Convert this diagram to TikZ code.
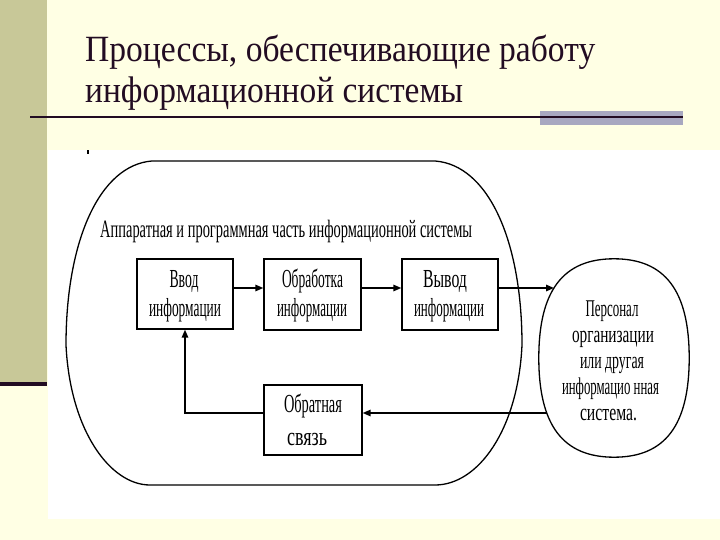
\documentclass[tikz,border=0pt]{standalone}
\usepackage{fontspec}
\setmainfont{Liberation Serif}
\usepackage{graphicx}
\usetikzlibrary{arrows.meta}
\definecolor{bg}{HTML}{FFFFE4}
\definecolor{olivebar}{HTML}{C8C898}
\definecolor{darkp}{HTML}{220C22}
\definecolor{graybar}{HTML}{A8A8C0}
\newcommand\fitw[2]{\resizebox{#1pt}{\height}{#2}}
\begin{document}
\begin{tikzpicture}[x=1pt,y=-1pt,
  box/.style={draw, line width=1.4pt, inner sep=0pt},
  txt/.style={inner sep=0pt, anchor=base, font=\fontsize{26}{30}\selectfont},
  etxt/.style={inner sep=0pt, anchor=base, font=\fontsize{24}{28}\selectfont},
  ttl/.style={inner sep=0pt, anchor=base west, text=darkp, font=\fontsize{37}{42}\selectfont},
  conn/.style={line width=1.5pt, -{Triangle[length=8pt,width=6.5pt]}},
  outl/.style={line width=1.3pt}]
\useasboundingbox (0,0) rectangle (720,540);
% background
\fill[bg] (0,0) rectangle (720,540);
\fill[olivebar] (0,0) rectangle (47,382);
\fill[darkp] (0,382) rectangle (47,386);
\fill[white] (48,150) rectangle (720,519);
% title
\node[ttl] (t1) at (85,62) {\fitw{510}{Процессы, обеспечивающие работу}};
\node[ttl] (t2) at (85,103) {\fitw{378}{информационной системы}};
\fill[graybar] (540,111) rectangle (683,125);
\draw[darkp, line width=2pt] (30,117) -- (683,117);
\fill (87,150) rectangle (89,154);
% big container
\draw[outl] (152,161) -- (435,161)
  .. controls (488,165) and (522,240) .. (522,345)
  .. controls (518,430) and (478,485) .. (435,485)
  -- (150,485)
  .. controls (110,485) and (70,430) .. (66,345)
  .. controls (66,240) and (100,165) .. (152,161) -- cycle;
\node[txt, anchor=base west, font=\fontsize{25}{29}\selectfont] (lab) at (100,238) {\fitw{372}{Аппаратная и программная часть информационной системы}};
% boxes
\node[box, minimum width=96pt, minimum height=70pt] (b1) at (185,294) {};
\node[box, minimum width=97pt, minimum height=71pt] (b2) at (312.5,294.5) {};
\node[box, minimum width=96pt, minimum height=71pt] (b3) at (450,294.5) {};
\node[box, minimum width=98pt, minimum height=70pt] (b4) at (313,420) {};
\node[txt] (b1a) at (184,287) {\fitw{29}{Ввод}};
\node[txt] (b1b) at (185,316) {\fitw{72}{информации}};
\node[txt] (b2a) at (312.5,287) {\fitw{61}{Обработка}};
\node[txt] (b2b) at (312,316) {\fitw{70}{информации}};
\node[txt] (b3a) at (445,287) {\fitw{44}{Вывод}};
\node[txt] (b3b) at (449,316) {\fitw{70}{информации}};
\node[txt] (b4a) at (313,412) {\fitw{58}{Обратная}};
\node[txt] (b4b) at (307,445) {\fitw{40}{связь}};
% person / other system
\node[inner sep=0pt, minimum width=150pt, minimum height=198pt] (pers) at (614,358) {};
\draw[outl] (pers.north)
  .. controls ++(51,0) and ++(0,-67.3) .. (pers.east)
  .. controls ++(0,67.3) and ++(51,0) .. (pers.south)
  .. controls ++(-51,0) and ++(0,67.3) .. (pers.west)
  .. controls ++(0,-67.3) and ++(-51,0) .. (pers.north) -- cycle;
\coordinate (pin) at (554,288);
\coordinate (pout) at (547,413);
\node[etxt] (p1) at (612,316) {\fitw{53}{Персонал}};
\node[etxt] (p2) at (613,342) {\fitw{82}{организации}};
\node[etxt] (p3) at (612,368) {\fitw{64}{или другая}};
\node[etxt] (p4) at (610.5,394) {\fitw{97}{информацио нная}};
\node[etxt] (p5) at (608.5,420) {\fitw{57}{система.}};
% connectors
\draw[conn] ([yshift=6pt]b1.east) -- ([yshift=6pt]b1.east -| b2.west);
\draw[conn] ([yshift=6.5pt]b2.east) -- ([yshift=6.5pt]b2.east -| b3.west);
\draw[conn] ([yshift=6.5pt]b3.east) -- (pin);
\draw[conn] (pout) -- (pout -| b4.east);
\draw[conn] ([yshift=7pt]b4.west) -| (b1.south);
\end{tikzpicture}
\end{document}
